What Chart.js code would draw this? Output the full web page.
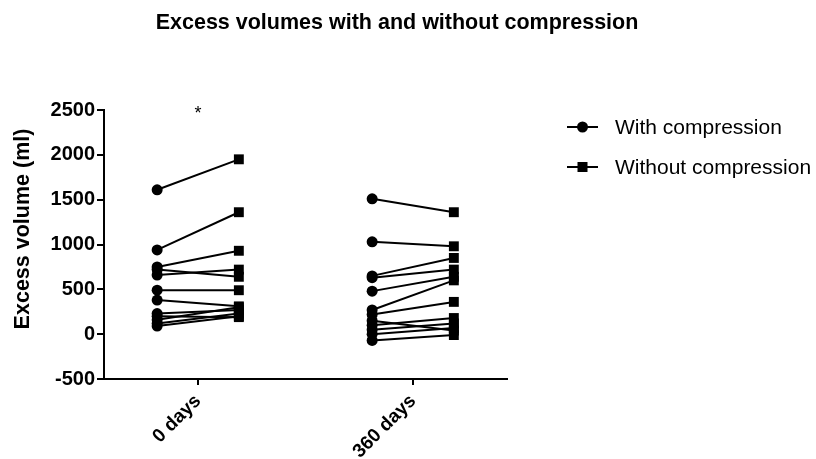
<!DOCTYPE html>
<html>
<head>
<meta charset="utf-8">
<script src="https://cdn.jsdelivr.net/npm/chart.js@4/dist/chart.umd.min.js"></script>
<style>
html,body{margin:0;padding:0;background:#fff;}
#wrap{width:816px;height:459px;position:relative;}
</style>
</head>
<body>
<div id="wrap"><canvas id="c" width="816" height="459"></canvas></div>
<script>
// ---- data ----
const categories = ['0 days', '360 days'];
const withComp0    = [1610, 940, 750, 720, 660, 490, 380, 230, 200, 160, 120, 90];
const withoutComp0 = [1950, 1360, 930, 640, 720, 490, 310, 270, 190, 300, 230, 200];
const withComp360    = [1510, 1030, 650, 630, 480, 270, 220, 150, 100, 50, 0, -70];
const withoutComp360 = [1360, 980, 850, 720, 640, 600, 360, 40, 180, 120, 70, -10];
const yTicks = [-500, 0, 500, 1000, 1500, 2000, 2500];
const seriesNames = ['With compression', 'Without compression'];
const titleText = 'Excess volumes with and without compression';
const yTitle = 'Excess volume (ml)';
const sigMark = '*';
const sigValue = 2480;

// ---- build ----
const FONT = "'Liberation Sans', Arial, sans-serif";
const OFF = 0.19;
const groups = [[withComp0, withoutComp0], [withComp360, withoutComp360]];
const datasets = [];
groups.forEach((g, gi) => {
  g[0].forEach((v, i) => {
    datasets.push({
      data: [{x: gi + 1 - OFF, y: v}, {x: gi + 1 + OFF, y: g[1][i]}],
      showLine: true,
      borderColor: '#000',
      backgroundColor: '#000',
      borderWidth: 2,
      pointStyle: ['circle', 'rect'],
      pointRadius: [5.5, 7],
      pointHoverRadius: [5.5, 7],
      pointBorderWidth: 0
    });
  });
});

const extras = {
  id: 'extras',
  afterDraw(chart) {
    const ctx = chart.ctx;
    ctx.save();
    ctx.fillStyle = '#000';
    // title
    ctx.font = 'bold 21.5px ' + FONT;
    ctx.textAlign = 'center';
    ctx.textBaseline = 'middle';
    ctx.fillText(titleText, 397, 23);
    // y-axis title
    ctx.save();
    ctx.translate(23, 229);
    ctx.rotate(-Math.PI / 2);
    ctx.font = 'bold 21.5px ' + FONT;
    ctx.fillText(yTitle, 0, 0);
    ctx.restore();
    // significance mark
    const xs = chart.scales.x, ys = chart.scales.y;
    ctx.font = '18px ' + FONT;
    ctx.fillText(sigMark, xs.getPixelForValue(1), ys.getPixelForValue(sigValue) + 2);
    // legend
    const lx = 567, ly = [127, 167];
    seriesNames.forEach((name, i) => {
      const y = ly[i];
      ctx.strokeStyle = '#000';
      ctx.lineWidth = 2;
      ctx.beginPath(); ctx.moveTo(lx, y); ctx.lineTo(lx + 31, y); ctx.stroke();
      ctx.beginPath();
      if (i === 0) { ctx.arc(lx + 15.5, y, 5.5, 0, Math.PI * 2); ctx.fill(); }
      else { ctx.fillRect(lx + 15.5 - 5, y - 5, 10, 10); }
      ctx.font = '21px ' + FONT;
      ctx.textAlign = 'left';
      ctx.fillText(name, 615, y + 1);
    });
    ctx.restore();
  }
};

new Chart(document.getElementById('c'), {
  type: 'scatter',
  data: { datasets },
  plugins: [extras],
  options: {
    responsive: false,
    animation: false,
    layout: { padding: { top: 110, right: 309, left: 0, bottom: 0 } },
    plugins: { legend: { display: false }, tooltip: { enabled: false }, title: { display: false } },
    scales: {
      x: {
        type: 'linear',
        min: 1 - 94 / 215,
        max: 2 + 94 / 215,
        afterBuildTicks(s) { s.ticks = categories.map((c, i) => ({ value: i + 1 })); },
        afterFit(s) { s.height = 80; },
        ticks: {
          callback: (v) => categories[Math.round(v) - 1],
          minRotation: 45, maxRotation: 45,
          color: '#000',
          font: { family: FONT, size: 19, weight: 'bold' },
          padding: 5
        },
        grid: { display: true, drawOnChartArea: false, drawTicks: true, tickLength: 6, color: '#000', lineWidth: 2 },
        border: { display: true, color: '#000', width: 2 }
      },
      y: {
        min: -500, max: 2500,
        afterBuildTicks(s) { s.ticks = yTicks.map(v => ({ value: v })); },
        afterFit(s) { s.width = 104; },
        ticks: {
          callback: (v) => String(v),
          color: '#000',
          font: { family: FONT, size: 20, weight: 'bold' },
          padding: 2
        },
        grid: { display: true, drawOnChartArea: false, drawTicks: true, tickLength: 7, color: '#000', lineWidth: 2 },
        border: { display: true, color: '#000', width: 2 }
      }
    }
  }
});
</script>
</body>
</html>
